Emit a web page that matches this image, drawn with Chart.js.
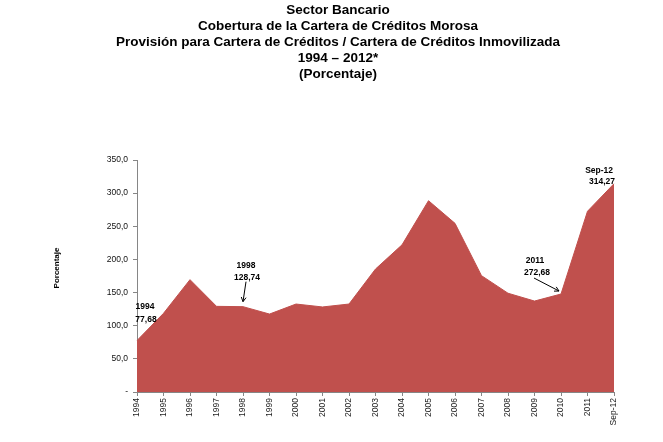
<!DOCTYPE html>
<html><head><meta charset="utf-8">
<script src="https://cdn.jsdelivr.net/npm/chart.js@4.4.0/dist/chart.umd.min.js"></script>
<style>html,body{margin:0;padding:0;background:#fff}#wrap{width:663px;height:442px}</style>
</head><body><div id="wrap"><canvas id="c"></canvas></div>
<script>
const categories = ['1994','1995','1996','1997','1998','1999','2000','2001','2002','2003','2004','2005','2006','2007','2008','2009','2010','2011','Sep-12'];
const coverage = [77.68,118.7,169.5,129.2,128.74,117.6,132.7,128.3,132.7,185.5,222.0,288.6,254.4,175.5,149.0,137.2,147.8,272.68,314.27];
const yTicks = [0,50,100,150,200,250,300,350];
const titleLines = ['Sector Bancario','Cobertura de la Cartera de Créditos Morosa','Provisión para Cartera de Créditos / Cartera de Créditos Inmovilizada','1994 – 2012*','(Porcentaje)'];
const yAxisTitle = 'Porcentaje';
const notes = [
  {idx:0, lines:['1994','77,68']},
  {idx:4, lines:['1998','128,74']},
  {idx:16, lines:['2011','272,68']},
  {idx:18, lines:['Sep-12','314,27']}
];

function arrow(ctx,x1,y1,x2,y2){
  ctx.beginPath();ctx.moveTo(x1,y1);ctx.lineTo(x2,y2);ctx.stroke();
  const a=Math.atan2(y2-y1,x2-x1),h=5;
  ctx.beginPath();
  ctx.moveTo(x2-h*Math.cos(a-0.5),y2-h*Math.sin(a-0.5));
  ctx.lineTo(x2,y2);
  ctx.lineTo(x2-h*Math.cos(a+0.5),y2-h*Math.sin(a+0.5));
  ctx.stroke();
}

const textPlugin = {
  id:'texts',
  afterDraw(chart){
    const ctx=chart.ctx, xs=chart.scales.x, ys=chart.scales.y;
    ctx.save();
    ctx.fillStyle='#000';
    ctx.textAlign='center';ctx.textBaseline='middle';
    ctx.font='bold 13.5px "Liberation Sans", Arial, sans-serif';
    titleLines.forEach((t,i)=>ctx.fillText(t,338,10+i*16));
    // y axis title
    ctx.font='bold 8px "Liberation Sans", Arial, sans-serif';
    ctx.translate(57,268);ctx.rotate(-Math.PI/2);ctx.fillText(yAxisTitle,0,0);
    ctx.setTransform(chart.currentDevicePixelRatio,0,0,chart.currentDevicePixelRatio,0,0);
    ctx.font='bold 8.5px "Liberation Sans", Arial, sans-serif';
    ctx.strokeStyle='#000';ctx.lineWidth=1;
    const P = i => ({x:xs.getPixelForValue(i), y:ys.getPixelForValue(coverage[i])});
    // 1994
    let p=P(0);
    ctx.fillText(notes[0].lines[0],p.x+8,p.y-34);
    ctx.fillText(notes[0].lines[1],p.x+9,p.y-21);
    // 1998
    p=P(4);
    ctx.fillText(notes[1].lines[0],p.x+3,p.y-41);
    ctx.fillText(notes[1].lines[1],p.x+4,p.y-29);
    arrow(ctx,p.x+3,p.y-25,p.x,p.y-5);
    // 2011 (arrow to 2010 point)
    p=P(16);
    ctx.fillText(notes[2].lines[0],p.x-26,p.y-33);
    ctx.fillText(notes[2].lines[1],p.x-24,p.y-21);
    arrow(ctx,p.x-27,p.y-16,p.x-2,p.y-3);
    // Sep-12
    p=P(18);
    ctx.textAlign='right';
    ctx.fillText(notes[3].lines[0],p.x-1,p.y-13);
    ctx.fillText(notes[3].lines[1],p.x+1,p.y-2);
    ctx.restore();
  }
};

new Chart(document.getElementById('c'),{
  type:'line',
  data:{labels:categories,datasets:[{data:coverage,fill:'origin',backgroundColor:'#C0504D',borderColor:'#C0504D',borderWidth:1,pointRadius:0,tension:0}]},
  options:{
    responsive:true,maintainAspectRatio:false,animation:false,
    layout:{padding:{top:160,right:49,bottom:0,left:0}},
    plugins:{legend:{display:false},title:{display:false},tooltip:{enabled:false}},
    scales:{
      x:{offset:false,
        grid:{drawOnChartArea:false,drawTicks:true,tickLength:4,color:'#868686'},
        border:{color:'#868686'},
        ticks:{autoSkip:false,minRotation:90,maxRotation:90,padding:2,color:'#222',font:{family:'"Liberation Sans", Arial, sans-serif',size:8.5}},
        afterFit(s){s.height=50;}
      },
      y:{min:0,max:350,
        afterBuildTicks(s){s.ticks=yTicks.map(v=>({value:v}));},
        grid:{drawOnChartArea:false,drawTicks:true,tickLength:4,color:'#868686'},
        border:{color:'#868686'},
        ticks:{padding:5,color:'#111',font:{family:'"Liberation Sans", Arial, sans-serif',size:8.5},
          callback:v=>v===0?'-':v.toFixed(1).replace('.',',')},
        afterFit(s){s.width=137;}
      }
    }
  },
  plugins:[textPlugin]
});
</script></body></html>
